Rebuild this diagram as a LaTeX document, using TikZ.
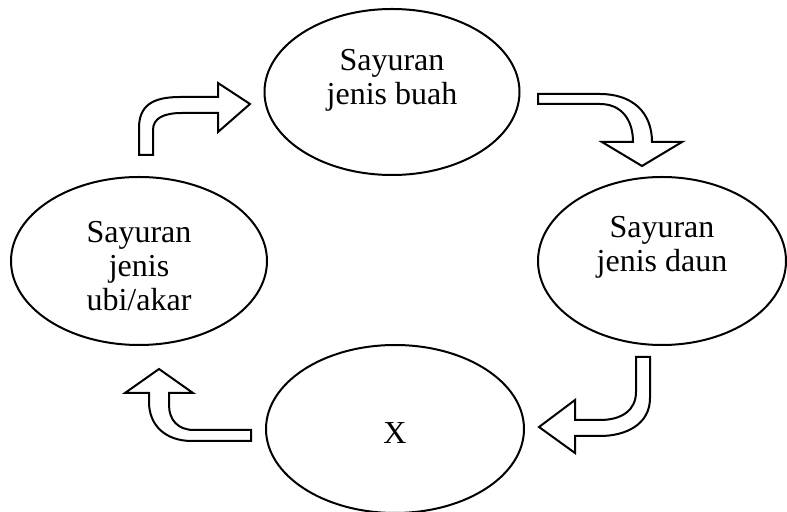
\documentclass[tikz,border=0pt]{standalone}
\usepackage{fontspec}
\setmainfont{Liberation Serif}
\usetikzlibrary{shapes.geometric,calc}

\tikzset{
  sayur/.style={draw, ellipse, line width=1pt, inner sep=0pt},
  tulisan/.style={align=center, font=\fontsize{16}{17}\selectfont},
  panah/.style={draw, fill=white, line width=1pt, line join=miter}
}

\begin{document}
\begin{tikzpicture}[x=0.5pt,y=-0.5pt]
\useasboundingbox (0,0) rectangle (787,512);

% elips
\node[sayur, minimum width=127.5pt, minimum height=83pt] (buah) at (392,92) {};
\node[sayur, minimum width=128pt, minimum height=84pt] (ubi) at (139,261) {};
\node[sayur, minimum width=124pt, minimum height=84pt] (daun) at (662,261) {};
\node[sayur, minimum width=129pt, minimum height=84pt] (x) at (395,429) {};

\node[tulisan] (tbuah) at ($(buah)+(0,-12)$) {Sayuran\\jenis buah};
\node[tulisan] (tubi) at ($(ubi)+(0,5)$) {Sayuran\\jenis\\ubi/akar};
\node[tulisan] (tdaun) at ($(daun)+(0,-14)$) {Sayuran\\jenis daun};
\node[tulisan] (tx) at ($(x)+(0,4)$) {X};

% panah
\draw[panah] (139,155) -- (139,128) .. controls (139,106) and (152,97) .. (180,97)
  -- (218,97) -- (218,83) -- (250,104) -- (218,132) -- (218,113) -- (182,113)
  .. controls (164,113) and (153,118) .. (153,130) -- (153,155) -- cycle;

\draw[panah] (538,94) -- (600,94) .. controls (632,94) and (652,112) .. (652,142)
  -- (682,142) -- (642,166) -- (602,142) -- (633,142)
  .. controls (633,118) and (620,104) .. (600,104) -- (538,104) -- cycle;

\draw[panah] (636,357) -- (650,357) -- (650,398) .. controls (650,425) and (625,436) .. (600,436)
  -- (575,436) -- (575,453) -- (539,427) -- (575,400) -- (575,420) -- (600,420)
  .. controls (622,420) and (636,410) .. (636,392) -- cycle;

\draw[panah] (251,430) -- (251,441) -- (192,441) .. controls (165,441) and (149,425) .. (149,402)
  -- (149,393) -- (125,393) -- (159,369) -- (193,393) -- (169,393) -- (169,405)
  .. controls (169,420) and (178,430) .. (194,430) -- cycle;

\end{tikzpicture}
\end{document}
